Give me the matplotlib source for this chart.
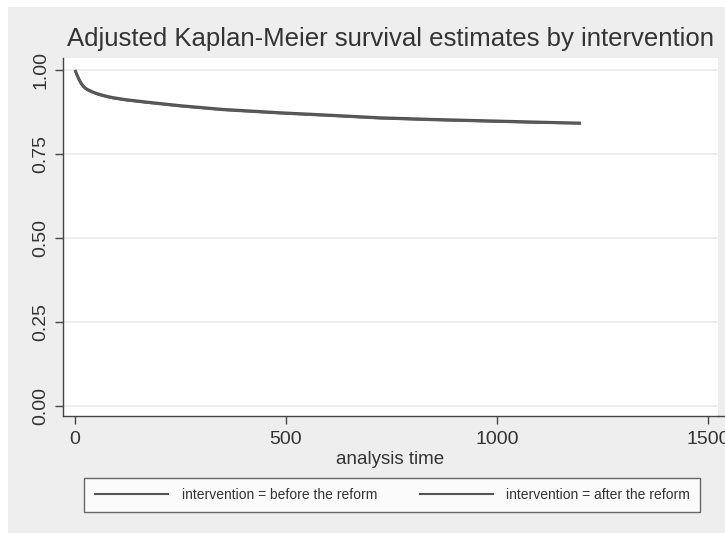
import matplotlib
matplotlib.use("Agg")
import matplotlib.pyplot as plt
from matplotlib.patches import Rectangle
from matplotlib.lines import Line2D
from matplotlib import font_manager

# ---- data ----
time_before = [0, 3, 6, 10, 15, 20, 25, 30, 40, 50, 60, 75, 90, 120, 168, 250, 350, 486, 600, 723, 850, 1007, 1100, 1199]
surv_before = [1.0, 0.991, 0.982, 0.971, 0.960, 0.952, 0.946, 0.942, 0.936, 0.931, 0.927, 0.922, 0.918, 0.912, 0.905, 0.894, 0.883, 0.873, 0.866, 0.858, 0.853, 0.848, 0.845, 0.842]
time_after = [0, 3, 6, 10, 15, 20, 25, 30, 40, 50, 60, 75, 90, 120, 168, 250, 350, 486, 600, 723, 850, 1007, 1100, 1199]
surv_after = [1.0, 0.990, 0.981, 0.970, 0.958, 0.950, 0.944, 0.940, 0.934, 0.929, 0.925, 0.920, 0.916, 0.910, 0.903, 0.892, 0.881, 0.871, 0.864, 0.856, 0.851, 0.846, 0.843, 0.841]
series_labels = ["intervention = before the reform", "intervention = after the reform"]
title = "Adjusted Kaplan-Meier survival estimates by intervention"
x_ticks = [0, 500, 1000, 1500]
y_ticks = [0.0, 0.25, 0.5, 0.75, 1.0]
y_ticklabels = ["0.00", "0.25", "0.50", "0.75", "1.00"]
xlabel = "analysis time"

names = {f.name for f in font_manager.fontManager.ttflist}
main_font = "Liberation Sans" if "Liberation Sans" in names else "DejaVu Sans"
narrow_font = "Liberation Sans Narrow" if "Liberation Sans Narrow" in names else main_font
plt.rcParams["font.family"] = [main_font, "DejaVu Sans"]

W, H = 725, 533
fig = plt.figure(figsize=(W / 100, H / 100), dpi=100)
fig.patch.set_facecolor("white")
bg = "#EEEEEE"
fig.patches.append(Rectangle((8 / W, 0), 1, 1 - 7 / H, transform=fig.transFigure,
                             facecolor=bg, edgecolor="none", zorder=-10))

left, right, top, bottom = 63, 718, 58, 416
ax = fig.add_axes([left / W, 1 - bottom / H, (right - left) / W, (bottom - top) / H])
ax.set_facecolor("white")

ax.plot(time_before, surv_before, color="#505050", lw=2.2, solid_capstyle="butt", label=series_labels[0])
ax.plot(time_after, surv_after, color="#5a5a5a", lw=1.6, solid_capstyle="butt", label=series_labels[1])

ax.set_xlim(-28.4, 1523.7)
ax.set_ylim(-0.030, 1.036)
ax.set_xticks(x_ticks)
ax.set_xticklabels([str(v) for v in x_ticks])
ax.set_yticks(y_ticks)
ax.set_yticklabels(y_ticklabels, rotation=90, va="center")
ax.grid(axis="y", color="#EAEAEA", lw=1.2)
ax.grid(axis="x", visible=False)
ax.set_axisbelow(True)

for s in ["top", "right"]:
    ax.spines[s].set_visible(False)
for s in ["left", "bottom"]:
    ax.spines[s].set_color("#444444")
    ax.spines[s].set_linewidth(1.0)

ax.tick_params(axis="both", colors="#444444", length=6, width=1.0, labelcolor="#333333")
ax.tick_params(axis="x", labelsize=14, pad=5)
ax.tick_params(axis="y", labelsize=14, pad=4)
ax.set_xlabel(xlabel, fontsize=13.5, color="#333333", labelpad=2)

# extend x-axis line to the figure edge
fig.add_artist(Line2D([right / W, 1.0], [1 - bottom / H, 1 - bottom / H], transform=fig.transFigure,
                      color="#444444", lw=1.0))

fig.text(((left + right) / 2) / W, 1 - 39 / H, title, ha="center", va="center",
         fontsize=18.5, color="#333333")

leg = fig.legend(loc="center", bbox_to_anchor=(392 / W, 1 - 495 / H), ncol=2,
                 frameon=True, fancybox=False, handlelength=5.4, columnspacing=3.0,
                 handletextpad=0.9, borderpad=0.75,
                 prop={"family": [narrow_font, main_font, "DejaVu Sans"], "size": 10})
leg.get_frame().set_edgecolor("#444444")
leg.get_frame().set_linewidth(1.0)
leg.get_frame().set_facecolor("white")
for t in leg.get_texts():
    t.set_color("#333333")
for h in leg.get_lines():
    h.set_linewidth(1.5)
    h.set_color("#555555")

fig.savefig("out.png", dpi=100)
